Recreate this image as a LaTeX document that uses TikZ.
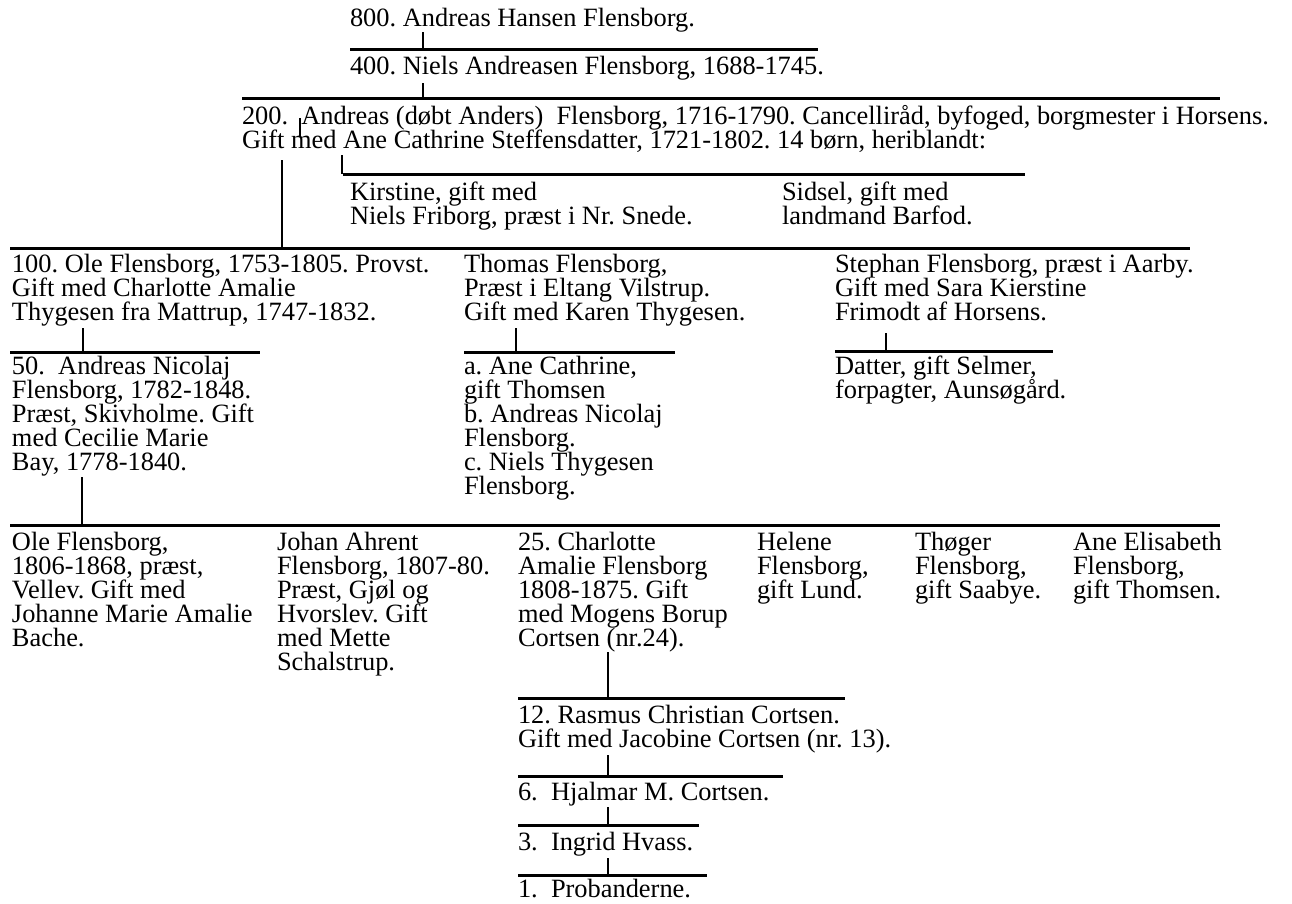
\documentclass[tikz,border=0pt]{standalone}
\usepackage{fontspec}
\setmainfont{Liberation Serif}
\frenchspacing
\newcommand{\mlines}[1]{\vtop{\baselineskip=24pt\lineskiplimit=-100pt\lineskip=0pt #1}}
\tikzset{
  tx/.style={anchor=base west, inner sep=0pt, outer sep=0pt, font=\fontsize{26.4}{24}\selectfont\frenchspacing},
  bar/.style={line width=3pt},
  tick/.style={line width=2.7pt},
  thin/.style={line width=1.5pt},
}
\begin{document}
\begin{tikzpicture}[x=1pt,y=-1pt]
\useasboundingbox (0,0) rectangle (1292,903);
% texts
\node[tx] (n800) at (350,26) {800. Andreas Hansen Flensborg.};
\node[tx] (n400) at (350,74) {400. Niels Andreasen Flensborg, 1688-1745.};
\node[tx] (n200) at (242,124) {\mlines{\hbox{200.\ \ Andreas (døbt Anders)\ \ Flensborg, 1716-1790. Cancelliråd, byfoged, borgmester i Horsens.}\hbox{Gift med Ane Cathrine Steffensdatter, 1721-1802. 14 børn, heriblandt:}}};
\node[tx] (kir) at (350,200) {\mlines{\hbox{Kirstine, gift med}\hbox{Niels Friborg, præst i Nr. Snede.}}};
\node[tx] (sid) at (782,200) {\mlines{\hbox{Sidsel, gift med}\hbox{landmand Barfod.}}};
\node[tx] (n100) at (12,272) {\mlines{\hbox{100. Ole Flensborg, 1753-1805. Provst.}\hbox{Gift med Charlotte Amalie}\hbox{Thygesen fra Mattrup, 1747-1832.}}};
\node[tx] (tho) at (464,272) {\mlines{\hbox{Thomas Flensborg,}\hbox{Præst i Eltang Vilstrup.}\hbox{Gift med Karen Thygesen.}}};
\node[tx] (ste) at (835,272) {\mlines{\hbox{Stephan Flensborg, præst i Aarby.}\hbox{Gift med Sara Kierstine}\hbox{Frimodt af Horsens.}}};
\node[tx] (n50) at (12,374) {\mlines{\hbox{50.\ \ Andreas Nicolaj}\hbox{Flensborg, 1782-1848.}\hbox{Præst, Skivholme. Gift}\hbox{med Cecilie Marie}\hbox{Bay, 1778-1840.}}};
\node[tx] (thk) at (464,374) {\mlines{\hbox{a. Ane Cathrine,}\hbox{gift Thomsen}\hbox{b. Andreas Nicolaj}\hbox{Flensborg.}\hbox{c. Niels Thygesen}\hbox{Flensborg.}}};
\node[tx] (dat) at (835,374) {\mlines{\hbox{Datter, gift Selmer,}\hbox{forpagter, Aunsøgård.}}};
\node[tx] (ole) at (12,550) {\mlines{\hbox{Ole Flensborg,}\hbox{1806-1868, præst,}\hbox{Vellev. Gift med}\hbox{Johanne Marie Amalie}\hbox{Bache.}}};
\node[tx] (joh) at (277,550) {\mlines{\hbox{Johan Ahrent}\hbox{Flensborg, 1807-80.}\hbox{Præst, Gjøl og}\hbox{Hvorslev. Gift}\hbox{med Mette}\hbox{Schalstrup.}}};
\node[tx] (n25) at (518,550) {\mlines{\hbox{25. Charlotte}\hbox{Amalie Flensborg}\hbox{1808-1875. Gift}\hbox{med Mogens Borup}\hbox{Cortsen (nr.24).}}};
\node[tx] (hel) at (757,550) {\mlines{\hbox{Helene}\hbox{Flensborg,}\hbox{gift Lund.}}};
\node[tx] (tog) at (915,550) {\mlines{\hbox{Thøger}\hbox{Flensborg,}\hbox{gift Saabye.}}};
\node[tx] (ane) at (1073,550) {\mlines{\hbox{Ane Elisabeth}\hbox{Flensborg,}\hbox{gift Thomsen.}}};
\node[tx] (n12) at (518,723) {\mlines{\hbox{12. Rasmus Christian Cortsen.}\hbox{Gift med Jacobine Cortsen (nr. 13).}}};
\node[tx] (n6) at (518,800) {6.\ \ Hjalmar M. Cortsen.};
\node[tx] (n3) at (518,850) {3.\ \ Ingrid Hvass.};
\node[tx] (n1) at (518,897) {1.\ \ Probanderne.};
% bars
\coordinate (b1l) at (350,49);  \coordinate (b1r) at (818,49);
\coordinate (b2l) at (242,98);  \coordinate (b2r) at (1220,98);
\coordinate (b4l) at (343,174); \coordinate (b4r) at (1025,174);
\coordinate (b3l) at (10,248);  \coordinate (b3r) at (1190,248);
\coordinate (b5l) at (10,352);  \coordinate (b5r) at (260,352);
\coordinate (b6l) at (464,352); \coordinate (b6r) at (675,352);
\coordinate (b7l) at (835,351); \coordinate (b7r) at (1053,351);
\coordinate (b8l) at (10,525);  \coordinate (b8r) at (1220,525);
\coordinate (b9l) at (518,698); \coordinate (b9r) at (845,698);
\coordinate (b10l) at (518,776); \coordinate (b10r) at (783,776);
\coordinate (b11l) at (518,825); \coordinate (b11r) at (699,825);
\coordinate (b12l) at (518,875); \coordinate (b12r) at (707,875);
\foreach \a/\b in {b1l/b1r,b2l/b2r,b4l/b4r,b3l/b3r,b5l/b5r,b6l/b6r,b7l/b7r,b8l/b8r,b9l/b9r,b10l/b10r,b11l/b11r,b12l/b12r}
  \draw[bar] (\a) -- (\b);
% ticks
\coordinate (t1) at (423,32);
\coordinate (t2) at (423,83);
\coordinate (t3) at (282,160);
\coordinate (t4) at (342,155);
\coordinate (t5) at (83,328);
\coordinate (t6) at (516,328);
\coordinate (t7) at (886,333);
\coordinate (t8) at (82,477);
\coordinate (t9) at (608,652);
\coordinate (t10) at (608,755);
\coordinate (t11) at (608,807);
\coordinate (t12) at (608,858);
\draw[tick] (t1) -- (t1 |- b1l);
\draw[tick] (t2) -- (t2 |- b2l);
\draw[tick] (t3) -- (t3 |- b3l);
\draw[tick] (t4) -- (t4 |- b4l);
\draw[tick] (t5) -- (t5 |- b5l);
\draw[tick] (t6) -- (t6 |- b6l);
\draw[tick] (t7) -- (t7 |- b7l);
\draw[tick] (t8) -- (t8 |- b8l);
\draw[tick] (t9) -- (t9 |- b9l);
\draw[tick] (t10) -- (t10 |- b10l);
\draw[tick] (t11) -- (t11 |- b11l);
\draw[tick] (t12) -- (t12 |- b12l);
\coordinate (s1) at (300,118);
\coordinate (s2) at (300,137);
\draw[thin] (s1) -- (s2);
\end{tikzpicture}
\end{document}
